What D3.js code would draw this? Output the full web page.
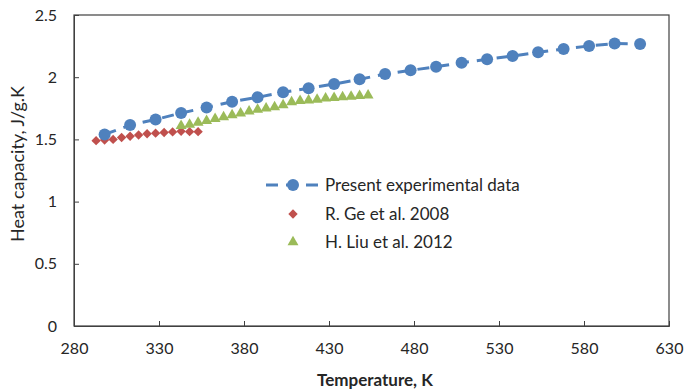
<!DOCTYPE html>
<html>
<head>
<meta charset="utf-8">
<script src="https://cdn.jsdelivr.net/npm/d3@7"></script>
<style>
  body { margin: 0; background: #fff; }
  svg { display: block; font-family: Lato, "Open Sans", sans-serif; }
</style>
</head>
<body>
<svg id="chart" width="686" height="390"></svg>
<script>
// ---- data ----
const presentT  = [298, 313, 328, 343, 358, 373, 388, 403, 418, 433, 448, 463, 478, 493, 508, 523, 538, 553, 568, 583, 598, 613];
const presentCp = [1.54, 1.615, 1.66, 1.712, 1.757, 1.803, 1.838, 1.879, 1.911, 1.945, 1.983, 2.026, 2.055, 2.084, 2.117, 2.144, 2.170, 2.200, 2.227, 2.251, 2.271, 2.267];

const geT  = [293, 298, 303, 308, 313, 318, 323, 328, 333, 338, 343, 348, 353];
const geCp = [1.49, 1.495, 1.50, 1.515, 1.525, 1.535, 1.545, 1.55, 1.555, 1.56, 1.565, 1.562, 1.562];

const liuT  = [343, 348, 353, 358, 363, 368, 373, 378, 383, 388, 393, 398, 403, 408, 413, 418, 423, 428, 433, 438, 443, 448, 453];
const liuCp = [1.61, 1.62, 1.635, 1.65, 1.665, 1.68, 1.695, 1.71, 1.725, 1.74, 1.75, 1.76, 1.775, 1.80, 1.81, 1.815, 1.82, 1.83, 1.835, 1.84, 1.845, 1.85, 1.855];

const xTicks = [280, 330, 380, 430, 480, 530, 580, 630];
const yTicks = [0, 0.5, 1, 1.5, 2, 2.5];
const seriesNames = ["Present experimental data", "R. Ge et al. 2008", "H. Liu et al. 2012"];
const xTitle = "Temperature, K";
const yTitle = "Heat capacity, J/g.K";

// ---- layout ----
(function () {
const svg = d3.select("#chart");
const pL = 74, pR = 669, pT = 15, pB = 326;
const x = d3.scaleLinear().domain([280, 630]).range([pL, pR]);
const y = d3.scaleLinear().domain([0, 2.5]).range([pB, pT]);

const blue = "#4F81BD", red = "#C0504D", green = "#9BBB59";
const textColor = "#262626";
const font = "Lato, 'Open Sans', sans-serif";

// plot border
svg.append("rect")
  .attr("x", pL).attr("y", pT)
  .attr("width", pR - pL).attr("height", pB - pT)
  .attr("fill", "none").attr("stroke", "#404040").attr("stroke-width", 1.2);

// axes
const xAxis = d3.axisBottom(x).tickValues(xTicks).tickSize(-5).tickPadding(17).tickFormat(d3.format("d"));
const gx = svg.append("g").attr("transform", `translate(0,${pB})`).call(xAxis);
gx.select(".domain").attr("stroke", "#404040");
gx.selectAll(".tick line").attr("stroke", "#404040");
gx.selectAll(".tick text").attr("fill", textColor).style("font-size", "16px").style("font-family", font);

const yAxis = d3.axisLeft(y).tickValues(yTicks).tickSize(-5).tickPadding(17).tickFormat(d => String(d));
const gy = svg.append("g").attr("transform", `translate(${pL},0)`).call(yAxis);
gy.select(".domain").attr("stroke", "#404040");
gy.selectAll(".tick line").attr("stroke", "#404040");
gy.selectAll(".tick text").attr("fill", textColor).style("font-size", "16px").style("font-family", font);

// titles
svg.append("text").attr("x", 375).attr("y", 386).attr("text-anchor", "middle")
  .attr("fill", textColor).style("font-size", "17px").style("font-weight", "bold").text(xTitle);
svg.append("text").attr("transform", "translate(24,164) rotate(-90)").attr("text-anchor", "middle")
  .attr("fill", textColor).style("font-size", "18px").text(yTitle);

// series
const present = presentT.map((t, i) => [t, presentCp[i]]);
const ge = geT.map((t, i) => [t, geCp[i]]);
const liu = liuT.map((t, i) => [t, liuCp[i]]);

const plot = svg.append("g");
plot.append("path").datum(present)
  .attr("d", d3.line().x(d => x(d[0])).y(d => y(d[1])))
  .attr("fill", "none").attr("stroke", blue).attr("stroke-width", 3)
  .attr("stroke-dasharray", "12,8");

const diamond = d3.symbol().type(d3.symbolDiamond2).size(56);
const triangle = d3.symbol().type(d3.symbolTriangle).size(52);

plot.selectAll(".ge").data(ge).join("path")
  .attr("transform", d => `translate(${x(d[0])},${y(d[1])})`)
  .attr("d", diamond).attr("fill", red);

plot.selectAll(".liu").data(liu).join("path")
  .attr("transform", d => `translate(${x(d[0])},${y(d[1])})`)
  .attr("d", triangle).attr("fill", green);

plot.selectAll(".pres").data(present).join("circle")
  .attr("cx", d => x(d[0])).attr("cy", d => y(d[1])).attr("r", 6)
  .attr("fill", blue);

// legend
const lg = svg.append("g");
const lx = 293, ly = [185, 214, 242];
lg.append("line").attr("x1", 266).attr("x2", 320).attr("y1", ly[0]).attr("y2", ly[0])
  .attr("stroke", blue).attr("stroke-width", 3).attr("stroke-dasharray", "12,8");
lg.append("circle").attr("cx", lx).attr("cy", ly[0]).attr("r", 6).attr("fill", blue);
lg.append("path").attr("transform", `translate(${lx},${ly[1]})`).attr("d", diamond).attr("fill", red);
lg.append("path").attr("transform", `translate(${lx},${ly[2]})`).attr("d", triangle).attr("fill", green);
seriesNames.forEach((name, i) => {
  lg.append("text").attr("x", 325).attr("y", ly[i]).attr("dy", "0.35em")
    .attr("fill", textColor).style("font-size", "17px").text(name);
});
})();
</script>
</body>
</html>
